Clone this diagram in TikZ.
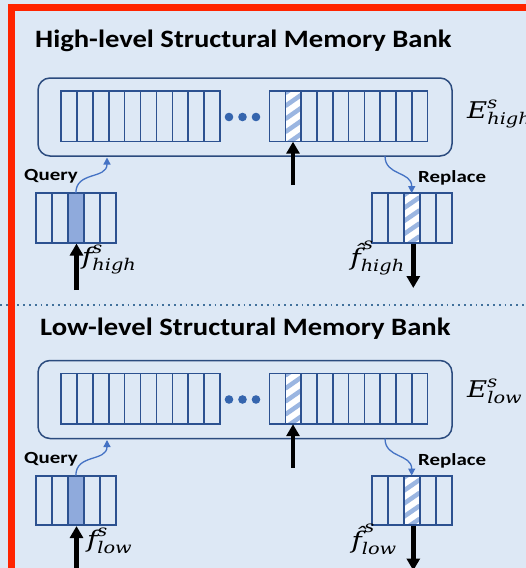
\documentclass[tikz,border=0pt]{standalone}
\usepackage{amsmath}
\usepackage{fontspec}
\setmainfont{Carlito}
\newfontfamily\symfont{DejaVu Serif}
\usetikzlibrary{arrows.meta}

\definecolor{paneblue}{HTML}{DDE8F5}
\definecolor{framered}{HTML}{FF2400}
\definecolor{cellblue}{HTML}{2C5190}
\definecolor{bankedge}{HTML}{2B4B7E}
\definecolor{shadeblue}{HTML}{8FAADC}
\definecolor{stripeblue}{HTML}{9BB6E1}
\definecolor{linkblue}{HTML}{4472C4}
\definecolor{dotblue}{HTML}{3565AE}
\definecolor{sepblue}{HTML}{41719C}

% italic symbol letters for the feature and bank names
\newcommand\sym[1]{\text{\symfont\itshape #1}}
% symbol label, widened a little
\newcommand\symlabel[1]{\scalebox{1.2}[1]{$#1$}}

\tikzset{
  cellrow/.style={draw=cellblue, line width=1.6pt, inner sep=0pt, rectangle},
  slotbox/.style={inner sep=0pt, rectangle},
  bankframe/.style={draw=bankedge, line width=1.5pt, rounded corners=12pt, inner sep=0pt, rectangle},
  divider/.style={cellblue, line width=1.6pt},
  stripe/.style={stripeblue, line width=4.5pt},
  feedarrow/.style={black, line width=4.5pt, -{Triangle[width=13pt,length=12pt]}},
  linkarrow/.style={linkblue, line width=1.3pt, -{Triangle[width=7pt,length=7pt]}},
  heading/.style={font=\fontsize{25}{30}\selectfont\bfseries, inner sep=0pt, anchor=base west},
  oplabel/.style={font=\fontsize{17}{20}\selectfont\bfseries, inner sep=0pt, anchor=base west},
  mathlabel/.style={font=\fontsize{23}{28}\selectfont, inner sep=0pt},
}

% white slot with diagonal light-blue stripes: x, y (top), width, height
\newcommand\hatchslot[4]{%
  \begin{scope}
    \clip (#1,#2) rectangle ++(#3,#4);
    \fill[white] (#1,#2) rectangle ++(#3,#4);
    \foreach \k in {0,...,5} \draw[stripe] (#1,#2+\k*13+2) -- ++(#3,-11);
  \end{scope}}

% one memory bank with its query and replace slots
\newcommand\bankpart{%
  \node[bankframe, minimum width=414pt, minimum height=78pt] (bank) at (245,117) {};
  % first run of slots
  \node[cellrow, minimum width=159pt, minimum height=50.5pt] (rowA) at (140.5,116.25) {};
  \foreach \i in {1,...,9} \draw[divider] (61+\i*15.9,91) -- ++(0,50.5);
  \foreach \x in {229,242.5,256} \fill[dotblue] (\x,117) circle (4.3pt);
  % second run of slots, the second one hatched
  \node[slotbox, minimum width=15.8pt, minimum height=50.5pt] (slot) at (293.2,116.25) {};
  \hatchslot{285.3}{91}{15.8}{50.5}
  \node[cellrow, minimum width=158pt, minimum height=50.5pt] (rowB) at (348.5,116.25) {};
  \foreach \i in {1,...,9} \draw[divider] (269.5+\i*15.8,91) -- ++(0,50.5);
  % query feature
  \node[slotbox, fill=shadeblue, minimum width=16.06pt, minimum height=49.5pt] (qslot) at (75.85,218) {};
  \node[cellrow, minimum width=80.3pt, minimum height=49.5pt] (qbox) at (75.85,218) {};
  \foreach \i in {1,...,4} \draw[divider] (35.7+\i*16.06,193.25) -- ++(0,49.5);
  % replaced feature
  \node[slotbox, minimum width=16pt, minimum height=49.5pt] (rslot) at (411.7,218) {};
  \hatchslot{403.7}{193.25}{16}{49.5}
  \node[cellrow, minimum width=80pt, minimum height=49.5pt] (rbox) at (411.7,218) {};
  \foreach \i in {1,...,4} \draw[divider] (371.7+\i*16,193.25) -- ++(0,49.5);
  % labels of the two operations
  \node[oplabel] (qtext) at (24,180.5) {\scalebox{1.23}[1]{Query}};
  \node[oplabel] (rtext) at (418,182.5) {\scalebox{1.23}[1]{Replace}};
  % connectors
  \coordinate (qtip) at (107,157.5);
  \draw[linkarrow] (qslot.north) .. controls +(0,-22) and +(0,22) .. (qtip);
  \coordinate (rstart) at (385,156);
  \draw[linkarrow] (rstart) .. controls +(0,20) and +(0,-22) .. (rslot.north);
  \coordinate (midfeed) at (293,185);
  \draw[feedarrow] (midfeed) -- (midfeed |- slot.south);
  \coordinate (qfeed) at (76.5,290);
  \draw[feedarrow] (qfeed) -- (qfeed |- qbox.south);
  \coordinate (rout) at (413.3,288);
  \draw[feedarrow] (rout |- rbox.south) -- (rout);
}

\begin{document}
\begin{tikzpicture}[x=1pt,y=-1pt]
  \useasboundingbox (0,0) rectangle (526,568);
  \clip (0,0) rectangle (526,568);
  \fill[paneblue] (0,0) rectangle (526,568);

  % separator between the two levels
  \coordinate (sepL) at (0,305);
  \coordinate (sepR) at (526,305);
  \draw[sepblue, line width=1.8pt, dash pattern=on 1.8pt off 4pt] (sepL) -- (sepR);

  % high level
  \node[heading] (hightitle) at (35,47.7) {\scalebox{1.145}[1]{High-level Structural Memory Bank}};
  \begin{scope}[name prefix=hi-]
    \bankpart
  \end{scope}
  \node[mathlabel, anchor=base west] (Ehigh) at (467,118.3) {\symlabel{\sym{E}^{\sym{s}}_{\sym{high}}}};
  \node[mathlabel, anchor=base west] (fhigh) at (82,264) {\symlabel{\sym{f}^{\sym{s}}_{\sym{high}}}};
  \node[mathlabel, anchor=base east] (fhathigh) at (405,265) {\symlabel{\sym{\^{f}}^{\kern2pt\sym{s}}_{\sym{high}}}};

  % low level
  \node[heading] (lowtitle) at (40,335) {\scalebox{1.145}[1]{Low-level Structural Memory Bank}};
  \begin{scope}[name prefix=lo-, yshift=-282.5pt]
    \bankpart
  \end{scope}
  \node[mathlabel, anchor=base west] (Elow) at (467,397.3) {\symlabel{\sym{E}^{\sym{s}}_{\sym{low}}}};
  \node[mathlabel, anchor=base west] (flow) at (87,547) {\symlabel{\sym{f}^{\sym{s}}_{\sym{low}}}};
  \node[mathlabel, anchor=base east] (fhatlow) at (397,548) {\symlabel{\sym{\^{f}}^{\kern2pt\sym{s}}_{\sym{low}}}};

  % outer frame
  \draw[framered, line width=7pt] (11.5,7.5) rectangle (600,640);
\end{tikzpicture}
\end{document}
